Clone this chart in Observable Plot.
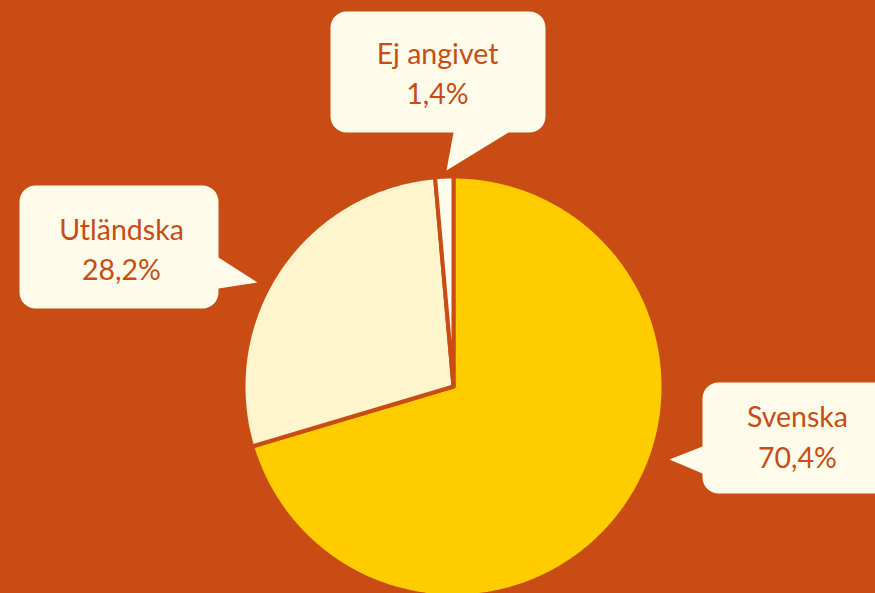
<!DOCTYPE html>
<html><head><meta charset="utf-8">
<script src="https://cdn.jsdelivr.net/npm/d3@7"></script>
<script src="https://cdn.jsdelivr.net/npm/@observablehq/plot@0.6"></script>
<style>
html,body{margin:0;padding:0;background:#C84C13;}
#chart{width:875px;height:593px;overflow:hidden;}
</style></head>
<body><div id="chart"></div>
<script>
// Data
const categories = ["Svenska", "Utländska", "Ej angivet"];
const values = [70.4, 28.2, 1.4];
const valueLabels = ["70,4%", "28,2%", "1,4%"];

// Styling / layout
const BG = "#C84C13";
const TEXT = "#C84C13";
const BOX = "#FFFBEB";
const sliceColors = ["#FFCC00", "#FFF5CC", "#FFFCEE"];
const W = 875, H = 593;
const center = [453, 386], R = 210;
const callouts = [
  {box:[702,382,905,493], tail:{side:"left", a:446, b:473, tip:[669,459]}, cx:797, y1:426, y2:467},
  {box:[19,185,218,308], tail:{side:"right", a:257, b:288, tip:[257,282]}, cx:121, y1:239, y2:279},
  {box:[330,11,545,132], tail:{side:"bottom", a:453, b:508, tip:[446,170]}, cx:437, y1:63, y2:103}
];

const pie = d3.pie().sort(null).value(d => d)(values);
const slices = pie.map((p, i) => {
  const pts = [[center[0], center[1]]];
  const n = Math.max(4, Math.ceil((p.endAngle - p.startAngle) / 0.01));
  for (let k = 0; k <= n; k++) {
    const a = p.startAngle + (p.endAngle - p.startAngle) * k / n;
    pts.push([center[0] + R * Math.sin(a), center[1] - R * Math.cos(a)]);
  }
  pts.push([center[0], center[1]]);
  return {cat: categories[i], color: sliceColors[i], pts};
});

function roundedWithTail(c) {
  const [x1, y1, x2, y2] = c.box, r = 16;
  const pts = [];
  const corner = (cx, cy, a0) => {
    for (let k = 0; k <= 8; k++) {
      const a = a0 + (Math.PI / 2) * k / 8;
      pts.push([cx + r * Math.cos(a), cy + r * Math.sin(a)]);
    }
  };
  const t = c.tail;
  corner(x1 + r, y1 + r, Math.PI);
  corner(x2 - r, y1 + r, -Math.PI / 2);
  if (t.side === "right") { pts.push([x2, t.a], t.tip, [x2, t.b]); }
  corner(x2 - r, y2 - r, 0);
  if (t.side === "bottom") { pts.push([t.b, y2], t.tip, [t.a, y2]); }
  corner(x1 + r, y2 - r, Math.PI / 2);
  if (t.side === "left") { pts.push([x1, t.b], t.tip, [x1, t.a]); }
  pts.push(pts[0]);
  return pts;
}

const marks = [];
slices.forEach(s => {
  marks.push(Plot.line(s.pts, {x: d => d[0], y: d => d[1], fill: s.color, stroke: BG, strokeWidth: 4, strokeLinejoin: "miter"}));
});
callouts.forEach((c, i) => {
  marks.push(Plot.line(roundedWithTail(c), {x: d => d[0], y: d => d[1], fill: BOX, stroke: "none"}));
  marks.push(Plot.text([categories[i]], {x: () => c.cx, y: () => c.y1, text: d => d, lineAnchor: "bottom", textAnchor: "middle", fontSize: 28.5, fill: TEXT}));
  marks.push(Plot.text([valueLabels[i]], {x: () => c.cx, y: () => c.y2, text: d => d, lineAnchor: "bottom", textAnchor: "middle", fontSize: 28.5, fill: TEXT}));
});

const chart = Plot.plot({
  width: W, height: H,
  margin: 0,
  x: {domain: [0, W], axis: null},
  y: {domain: [H, 0], axis: null},
  style: {background: BG, fontFamily: "Lato, 'Noto Sans', sans-serif", overflow: "hidden"},
  marks
});
document.getElementById("chart").appendChild(chart);
</script></body></html>
